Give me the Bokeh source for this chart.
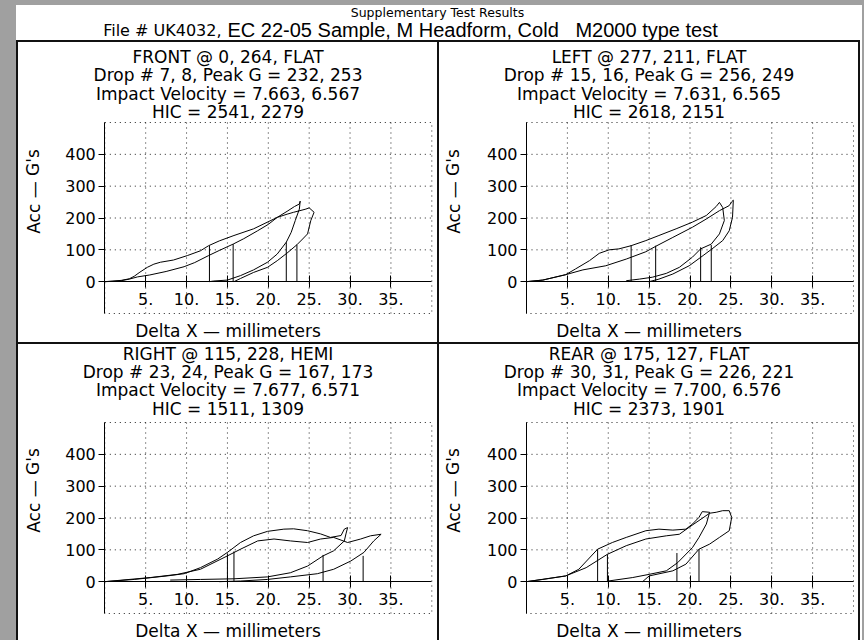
from bokeh.plotting import figure
from bokeh.layouts import column, row
from bokeh.models import FixedTicker, Label, Spacer, Range1d, ColumnDataSource
from bokeh.embed import file_html
from bokeh.resources import INLINE

# ---------------- data ----------------
SUPTITLE = "Supplementary Test Results"
FILE_TEXT = "File # UK4032,"
FILE_REST = "EC 22-05 Sample, M Headform, Cold\u00a0\u00a0\u00a0M2000 type test"

X_TICKS = [5, 10, 15, 20, 25, 30, 35]
X_TICK_LABELS = ["5.", "10.", "15.", "20.", "25.", "30.", "35."]
Y_TICKS = [0, 100, 200, 300, 400]
Y_TICK_LABELS = ["0", "100", "200", "300", "400"]
Y_GRID = [100, 200, 300, 400]
X_LIMITS = (0, 40)
Y_LIMITS = (-100, 500)
X_LABEL = "Delta X \u2014 millimeters"
Y_LABEL = "Acc \u2014 G's"

FRONT_TITLE = ["FRONT @ 0, 264, FLAT", "Drop # 7, 8, Peak G = 232, 253",
               "Impact Velocity = 7.663, 6.567", "HIC = 2541, 2279"]
FRONT_A_X = [0, 1, 2, 3, 4, 5.5, 7.5, 9.7, 11, 12.7, 14, 15.7, 17, 18.7, 20, 21.1, 22.3, 23.1, 24, 24.6, 25,
             25.6, 25.2, 24.8, 24.2, 23.5, 22.4, 21.1, 19.9, 18.2, 16.6, 15.8]
FRONT_A_Y = [0, 1, 3, 8, 15, 21, 32, 47, 60, 82, 98, 118, 135, 160, 180, 202, 212, 218, 224, 228, 232,
             218, 192, 150, 134, 116, 92, 66, 45, 29, 10, 0]
FRONT_B_X = [0, 1, 2, 3, 3.6, 4.3, 5.2, 6.0, 6.8, 8.4, 10.1, 11.7, 12.7, 14, 15.8, 18.2, 21.1, 22.3, 23.2,
             23.8, 23.9, 23.8, 23.3, 22.8, 22.2, 21.1, 19.9, 18.2, 16.6, 15, 13.3, 12.8]
FRONT_B_Y = [0, 2, 4, 9, 17, 30, 45, 55, 61, 68, 82, 97, 113, 128, 145, 166, 202, 221, 236,
             244, 253, 228, 192, 155, 124, 87, 61, 37, 19, 5, 2, 0]
FRONT_V_X = [12.8, 15.7, 22.2, 23.5]
FRONT_V_TOP = [113, 118, 124, 116]

LEFT_TITLE = ["LEFT @ 277, 211, FLAT", "Drop # 15, 16, Peak G = 256, 249",
              "Impact Velocity = 7.631, 6.565", "HIC = 2618, 2151"]
LEFT_A_X = [0, 2, 4.8, 6.9, 9.7, 12.2, 14.6, 15.8, 17.9, 20.3, 22, 23.6, 24.8, 25.1, 25.3,
            25.2, 24.8, 24, 22.8, 21.6, 19.9, 17.9, 16.2, 15]
LEFT_A_Y = [0, 5, 22, 37, 50, 71, 94, 111, 139, 171, 197, 223, 239, 251, 256,
            202, 160, 129, 105, 82, 50, 24, 8, 0]
LEFT_B_X = [0, 2, 4.8, 6, 7.7, 8.9, 10.1, 11.3, 12.8, 14.6, 16.2, 18.3, 20.3, 22, 23.2, 23.6,
            24, 24.2, 23.6, 22.6, 21.3, 20.3, 18.7, 17.1, 15.4, 13.8, 12.2]
LEFT_B_Y = [0, 5, 22, 40, 66, 89, 100, 103, 113, 129, 145, 166, 187, 208, 236, 249,
            233, 192, 150, 118, 103, 77, 45, 26, 14, 8, 3]
LEFT_V_X = [12.8, 15.8, 21.3, 22.6]
LEFT_V_TOP = [115, 113, 108, 115]

RIGHT_TITLE = ["RIGHT @ 115, 228, HEMI", "Drop # 23, 24, Peak G = 167, 173",
               "Impact Velocity = 7.677, 6.571", "HIC = 1511, 1309"]
RIGHT_A_X = [0, 3.6, 7.6, 9.7, 11.7, 13.8, 15, 16.6, 18.2, 19.9, 21.9, 23.1, 24.8, 26.4, 27.6, 28.9,
             29.3, 29.7, 29.5, 29.3, 28, 26.7, 24.8, 22.7, 19.9, 15.8, 11.7, 8]
RIGHT_A_Y = [0, 7, 18, 25, 44, 71, 92, 123, 144, 158, 165, 166, 160, 150, 139, 145,
             165, 170, 150, 128, 97, 81, 49, 28, 15, 9, 7, 5]
RIGHT_B_X = [0, 5.6, 8.9, 11.7, 15, 16.6, 18.7, 20.7, 22.7, 24.8, 26.4, 28, 29.7, 31.3, 32.5, 33.8,
             32.9, 31.7, 30.1, 28, 26, 22.7, 19.9, 16.6, 14]
RIGHT_B_Y = [0, 13, 23, 39, 81, 102, 128, 134, 128, 123, 134, 139, 123, 134, 144, 149,
             128, 92, 65, 39, 25, 15, 7, 2, 0]
RIGHT_V_X = [15, 15.8, 26.7, 31.6]
RIGHT_V_TOP = [88, 95, 84, 81]

REAR_TITLE = ["REAR @ 175, 127, FLAT", "Drop # 30, 31, Peak G = 226, 221",
              "Impact Velocity = 7.700, 6.576", "HIC = 2373, 1901"]
REAR_A_X = [0, 2, 4.8, 6.4, 8.7, 10.5, 12.2, 14.6, 16.2, 17.9, 19.5, 20.3, 21.1, 21.5, 22.4,
            22, 21.1, 20.3, 18.5, 17.1, 15, 13, 10]
REAR_A_Y = [0, 7, 18, 39, 102, 123, 139, 160, 165, 162, 165, 181, 202, 220, 218,
            181, 139, 107, 60, 34, 23, 13, 2]
REAR_B_X = [0, 4.8, 7.3, 9.9, 12.2, 14.6, 17.1, 18.7, 19.9, 21.1, 22.4, 23.2, 24, 24.8,
            25.1, 24.8, 23.6, 22.4, 21.1, 19.5, 17.9, 15, 14.2]
REAR_B_Y = [0, 18, 44, 86, 113, 134, 144, 149, 171, 192, 215, 218, 223, 223,
            202, 160, 139, 118, 102, 55, 34, 18, 0]
REAR_V_X = [8.7, 9.9, 18.4, 21.1]
REAR_V_TOP = [102, 86, 90, 102]

# ---------------- style ----------------
FONT = "DejaVu Sans"
GRAY = "#a0a0a0"
PW = 419          # panel width (px)
PLOT_W = 327      # width of the dotted plot box (px)
PLOT_H = 191      # height of the dotted plot box (px)


def txt(p, x, y, s, size="17px", align="center", angle=0.0, font=FONT):
    p.add_layout(Label(x=x, y=y, x_units="screen", y_units="screen", text=s, angle=angle,
                       text_font=font, text_font_size=size, text_color="black",
                       text_align=align, text_baseline="middle"))


def make_panel(title, ax, ay, bx, by, vx, vtop, height, box_left, box_top, title_offsets,
               xlab_from_top, ylab_x, ylab_from_top):
    # the figure's frame is the whole panel; the plot box sits inside it
    sx = PLOT_W / (X_LIMITS[1] - X_LIMITS[0])
    sy = PLOT_H / (Y_LIMITS[1] - Y_LIMITS[0])
    x0 = X_LIMITS[0] - box_left / sx
    x1 = X_LIMITS[1] + (PW - box_left - PLOT_W) / sx
    y1 = Y_LIMITS[1] + box_top / sy
    y0 = Y_LIMITS[0] - (height - box_top - PLOT_H) / sy
    p = figure(width=PW, height=height, output_backend="svg", toolbar_location=None,
               x_range=Range1d(x0, x1), y_range=Range1d(y0, y1), min_border=0,
               background_fill_color="white", border_fill_color="white")
    p.outline_line_color = None
    p.grid.visible = False

    xa = p.xaxis[0]
    xa.fixed_location = 0
    xa.bounds = X_LIMITS
    xa.ticker = FixedTicker(ticks=X_TICKS)
    xa.major_label_overrides = dict(zip(X_TICKS, X_TICK_LABELS))
    xa.major_tick_in = 6
    xa.major_tick_out = 6
    xa.minor_tick_line_color = None
    xa.major_label_standoff = 5
    xa.axis_line_color = "black"
    xa.major_tick_line_color = "black"
    xa.major_label_text_font = FONT
    xa.major_label_text_font_size = "16px"
    xa.major_label_text_color = "black"

    ya = p.yaxis[0]
    ya.fixed_location = X_LIMITS[0]
    ya.bounds = Y_LIMITS
    ya.ticker = FixedTicker(ticks=Y_TICKS)
    ya.major_label_overrides = dict(zip(Y_TICKS, Y_TICK_LABELS))
    ya.major_tick_in = 0
    ya.major_tick_out = 6
    ya.minor_tick_line_color = None
    ya.major_label_standoff = 3
    ya.axis_line_color = "black"
    ya.major_tick_line_color = "black"
    ya.major_label_text_font = FONT
    ya.major_label_text_font_size = "16px"
    ya.major_label_text_color = "black"

    # dotted grid and dotted plot box
    p.segment(x0=X_TICKS, y0=[Y_LIMITS[0]] * len(X_TICKS), x1=X_TICKS, y1=[Y_LIMITS[1]] * len(X_TICKS),
              line_color="#222222", line_dash="1 4", line_width=1)
    p.segment(x0=[X_LIMITS[0]] * len(Y_GRID), y0=Y_GRID, x1=[X_LIMITS[1]] * len(Y_GRID), y1=Y_GRID,
              line_color="#222222", line_dash="1 4", line_width=1)
    p.quad(left=[X_LIMITS[0]], right=[X_LIMITS[1]], bottom=[Y_LIMITS[0]], top=[Y_LIMITS[1]],
           fill_color=None, line_color="#222222", line_dash="1 4", line_width=1)

    p.line(ax, ay, line_color="black", line_width=1)
    p.line(bx, by, line_color="black", line_width=1)
    src = ColumnDataSource(dict(x=vx, top=vtop, base=[0] * len(vx)))
    p.segment(x0="x", y0="base", x1="x", y1="top", source=src, line_color="black", line_width=1)

    cx = PW / 2
    for s, off in zip(title, title_offsets):
        txt(p, cx, height - off, s)
    txt(p, cx, height - xlab_from_top, X_LABEL)
    txt(p, ylab_x, height - ylab_from_top, Y_LABEL, angle=1.5708)
    return p


TOP_OFFS = [14, 32, 51, 69]
BOT_OFFS = [9, 27, 45, 64]

p1 = make_panel(FRONT_TITLE, FRONT_A_X, FRONT_A_Y, FRONT_B_X, FRONT_B_Y, FRONT_V_X, FRONT_V_TOP,
                300, 86.3, 80, TOP_OFFS, 288, 15, 149)
p2 = make_panel(LEFT_TITLE, LEFT_A_X, LEFT_A_Y, LEFT_B_X, LEFT_B_Y, LEFT_V_X, LEFT_V_TOP,
                300, 87, 80, TOP_OFFS, 288, 14, 149)
p3 = make_panel(RIGHT_TITLE, RIGHT_A_X, RIGHT_A_Y, RIGHT_B_X, RIGHT_B_Y, RIGHT_V_X, RIGHT_V_TOP,
                296, 86.3, 78, BOT_OFFS, 286, 15, 146)
p4 = make_panel(REAR_TITLE, REAR_A_X, REAR_A_Y, REAR_B_X, REAR_B_Y, REAR_V_X, REAR_V_TOP,
                296, 87, 78, BOT_OFFS, 286, 14, 146)

header = figure(width=846, height=35, output_backend="svg", toolbar_location=None,
                x_range=Range1d(0, 1), y_range=Range1d(0, 1), min_border=0,
                background_fill_color="white", border_fill_color="white")
header.axis.visible = False
header.grid.visible = False
header.outline_line_color = None
txt(header, 421, 28, SUPTITLE, size="12.5px")
txt(header, 205, 10, FILE_TEXT, size="16px", align="right")
txt(header, 211, 11, FILE_REST, size="20px", align="left", font="Liberation Sans")

gray_style = {"background-color": GRAY}
black_style = {"background-color": "#111111"}


def vbar(h):
    return Spacer(width=2, height=h, styles=black_style)


def hbar():
    return Spacer(width=844, height=2, styles=black_style)


row1 = row(vbar(300), p1, vbar(300), p2, vbar(300), width=844, height=300)
row2 = row(vbar(296), p3, vbar(296), p4, vbar(296), width=844, height=296)
main = column(header, hbar(), row1, hbar(), row2, width=846, height=635,
              styles={"background-color": "white"})
body = row(Spacer(width=16, height=635, styles=gray_style), main,
           Spacer(width=2, height=635, styles=gray_style), width=864, height=635)
root = column(Spacer(width=864, height=5, styles=gray_style), body, width=864, height=640,
              styles=gray_style)

open("out.html", "w").write(file_html(root, INLINE))
